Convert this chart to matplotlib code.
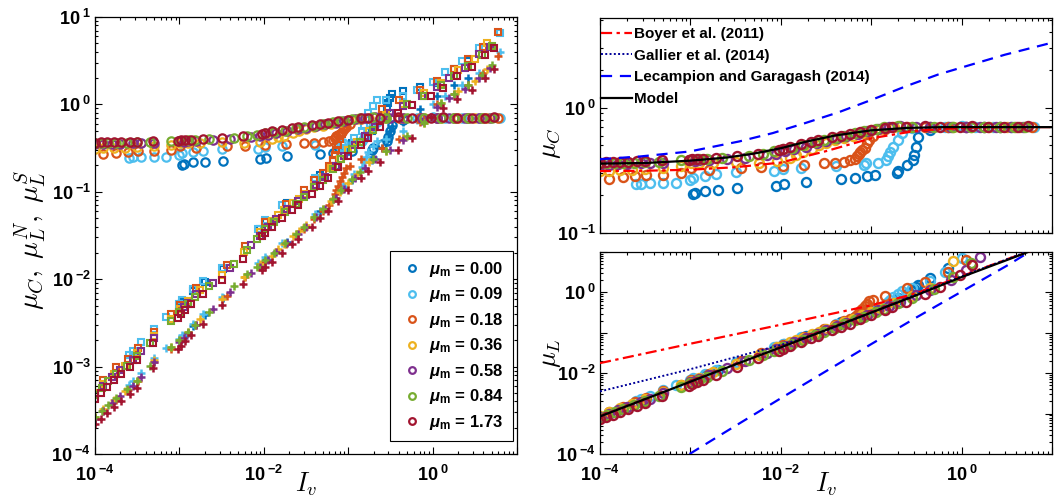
import numpy as np
import matplotlib
matplotlib.use('Agg')
import matplotlib.pyplot as plt
from matplotlib.lines import Line2D
from matplotlib.ticker import LogLocator, FuncFormatter, NullFormatter

plt.rcParams['font.family'] = 'Liberation Sans'
plt.rcParams['mathtext.fontset'] = 'custom'
plt.rcParams['mathtext.rm'] = 'Liberation Sans:bold'
plt.rcParams['mathtext.bf'] = 'Liberation Sans:bold'
plt.rcParams['mathtext.sf'] = 'Liberation Sans:bold:italic'
plt.rcParams['mathtext.it'] = 'Liberation Sans:italic'

nan = np.nan

# values read off log axes are kept as exponents (log10) except mu_C
# mu_m = 0.00
lg_iv_000 = [-2.97, -2.95, -2.84, -2.70, -2.48, -2.05, -1.97, -1.72, -1.33, -1.18, -1.05, -0.96,
             -0.72, -0.70, -0.60, -0.54, -0.53, -0.51, -0.48, -0.35, -0.15, 0.05, 0.25, 0.42]
muc_000 = [0.205, 0.21, 0.217, 0.221, 0.228, 0.238, 0.245, 0.257, 0.268, 0.275, 0.285, 0.29,
           0.30, 0.315, 0.35, 0.38, 0.42, 0.49, 0.58, 0.66, 0.70, 0.70, 0.70, 0.70]
lg_n_000 = [-2.27, -2.25, -2.14, -2.03, -1.88, -1.43, -1.34, -1.13, -0.81, -0.65, -0.52, -0.44,
            -0.30, -0.25, -0.13, -0.04, 0.02, 0.07, 0.12, 0.15, 0.20, 0.25, 0.40, 0.50]
lg_s_000 = [-2.67, -2.65, -2.54, -2.41, -2.21, -1.84, -1.77, -1.57, -1.22, -1.08, -0.95, -0.86,
            -0.64, -0.60, -0.50, -0.42, -0.36, -0.30, -0.25, -0.20, -0.05, 0.10, 0.22, 0.30]
lg_l_000 = [-2.15, -2.14, -2.04, -1.92, -1.72, -1.35, -1.28, -1.07, -0.74, -0.61, -0.50, -0.42,
            -0.20, -0.15, -0.05, 0.03, 0.08, 0.13, 0.18, 0.35, 0.60, nan, nan, nan]

# mu_m = 0.09
lg_iv_009 = [-3.60, -3.55, -3.45, -3.30, -3.16, -3.01, -2.97, -2.84, -2.72, -2.50, -2.07, -1.98,
             -1.78, -1.39, -1.08, -1.06, -0.93, -0.84, -0.81, -0.79, -0.76, -0.70, -0.66, -0.55,
             -0.35, -0.18, 0.00, 0.15, 0.35, 0.55, 0.80]
muc_009 = [0.245, 0.248, 0.25, 0.252, 0.252, 0.264, 0.277, 0.285, 0.296, 0.306, 0.312, 0.322,
           0.33, 0.34, 0.35, 0.36, 0.364, 0.38, 0.41, 0.44, 0.49, 0.55, 0.63, 0.69,
           0.70, 0.70, 0.71, 0.70, 0.70, 0.70, 0.70]
lg_n_009 = [-2.87, -2.82, -2.72, -2.57, -2.43, -2.28, -2.24, -2.11, -2.02, -1.87, -1.42, -1.32,
            -1.15, -0.84, -0.52, -0.50, -0.38, -0.30, -0.25, -0.18, -0.10, -0.02, 0.05, 0.05,
            0.10, 0.17, 0.26, 0.37, 0.50, 0.64, 0.82]
lg_s_009 = [-3.21, -3.17, -3.07, -2.90, -2.79, -2.68, -2.64, -2.51, -2.40, -2.20, -1.82, -1.75,
            -1.59, -1.25, -0.95, -0.93, -0.80, -0.72, -0.66, -0.60, -0.54, -0.48, -0.42, -0.40,
            -0.30, -0.18, 0.00, 0.10, 0.22, 0.36, 0.60]
lg_l_009 = [-2.69, -2.64, -2.56, -2.42, -2.30, -2.17, -2.13, -2.02, -1.91, -1.72, -1.35, -1.27,
            -1.10, -0.77, -0.51, -0.49, -0.38, -0.30, -0.24, -0.18, -0.12, -0.04, 0.03, 0.12,
            0.28, 0.50, 0.85, nan, nan, nan, nan]

# mu_m = 0.18
lg_iv_018 = [-3.90, -3.75, -3.61, -3.49, -3.30, -3.10, -2.99, -2.80, -2.44, -2.22, -1.98, -1.74,
             -1.52, -1.40, -1.30, -1.23, -1.18, -1.16, -1.14, -1.12, -1.10, -1.07, -1.05, -1.03,
             -0.98, -0.85, -0.60, -0.40, -0.15, 0.05, 0.25, 0.42, 0.60, 0.78]
muc_018 = [0.27, 0.28, 0.285, 0.29, 0.29, 0.30, 0.33, 0.32, 0.33, 0.335, 0.34, 0.35,
           0.36, 0.365, 0.37, 0.38, 0.39, 0.41, 0.43, 0.445, 0.46, 0.48, 0.52, 0.55,
           0.60, 0.68, 0.70, 0.70, 0.70, 0.70, 0.70, 0.70, 0.70, 0.70]
lg_n_018 = [-3.15, -3.01, -2.91, -2.79, -2.60, -2.40, -2.29, -2.10, -1.84, -1.62, -1.35, -1.14,
            -0.98, -0.87, -0.78, -0.71, -0.64, -0.58, -0.52, -0.46, -0.40, -0.34, -0.28, -0.22,
            -0.18, -0.15, -0.05, 0.05, 0.16, 0.27, 0.41, 0.52, 0.66, 0.83]
lg_s_018 = [-3.51, -3.38, -3.27, -3.17, -2.95, -2.80, -2.71, -2.52, -2.19, -1.98, -1.80, -1.60,
            -1.42, -1.31, -1.22, -1.15, -1.08, -1.03, -0.98, -0.93, -0.88, -0.83, -0.78, -0.73,
            -0.70, -0.62, -0.50, -0.40, -0.20, 0.00, 0.12, 0.22, 0.36, 0.55]
lg_l_018 = [-2.96, -2.84, -2.72, -2.62, -2.45, -2.28, -2.18, -2.01, -1.70, -1.51, -1.30, -1.10,
            -0.91, -0.81, -0.72, -0.66, -0.60, -0.55, -0.50, -0.45, -0.40, -0.34, -0.28, -0.22,
            -0.18, -0.10, 0.10, 0.25, 0.50, 0.80, nan, nan, nan, nan]

# mu_m = 0.36
lg_iv_036 = [-4.00, -3.90, -3.78, -3.65, -3.50, -3.30, -3.10, -2.99, -2.90, -2.75, -2.50, -2.24,
             -2.04, -1.90, -1.83, -1.76, -1.65, -1.58, -1.50, -1.40, -1.30, -1.20, -1.10, -1.00,
             -0.90, -0.75, -0.55, -0.35, -0.10, 0.10, 0.30, 0.50, 0.65]
muc_036 = [0.31, 0.315, 0.32, 0.32, 0.325, 0.33, 0.34, 0.36, 0.36, 0.365, 0.37, 0.365,
           0.375, 0.40, 0.42, 0.44, 0.47, 0.50, 0.52, 0.55, 0.57, 0.60, 0.63, 0.66,
           0.68, 0.70, 0.70, 0.70, 0.70, 0.70, 0.70, 0.70, 0.70]
lg_n_036 = [-3.30, -3.20, -3.08, -2.99, -2.85, -2.65, -2.45, -2.34, -2.25, -2.12, -1.95, -1.69,
            -1.46, -1.33, -1.27, -1.21, -1.13, -1.08, -1.02, -0.92, -0.83, -0.73, -0.62, -0.52,
            -0.43, -0.30, -0.12, 0.00, 0.13, 0.25, 0.39, 0.52, 0.70]
lg_s_036 = [-3.58, -3.49, -3.38, -3.28, -3.16, -2.93, -2.78, -2.69, -2.60, -2.46, -2.23, -1.97,
            -1.83, -1.74, -1.66, -1.60, -1.51, -1.45, -1.38, -1.29, -1.20, -1.10, -1.00, -0.90,
            -0.80, -0.66, -0.53, -0.39, -0.21, 0.02, 0.15, 0.27, 0.41]
lg_l_036 = [-3.05, -2.97, -2.87, -2.76, -2.64, -2.46, -2.29, -2.19, -2.11, -1.98, -1.76, -1.54,
            -1.36, -1.24, -1.18, -1.12, -1.03, -0.97, -0.90, -0.82, -0.73, -0.65, -0.56, -0.48,
            -0.39, -0.26, -0.08, 0.10, 0.78, nan, nan, nan, nan]

# mu_m = 0.58
lg_iv_058 = [-4.00, -3.90, -3.80, -3.70, -3.55, -3.45, -3.30, -3.00, -2.95, -2.90, -2.80, -2.60,
             -2.40, -2.15, -2.05, -1.95, -1.85, -1.72, -1.60, -1.50, -1.38, -1.28, -1.15, -1.05,
             -0.92, -0.80, -0.68, -0.50, -0.35, -0.12, 0.05, 0.20, 0.38, 0.55, 0.68]
muc_058 = [0.35, 0.35, 0.355, 0.355, 0.36, 0.36, 0.365, 0.38, 0.375, 0.38, 0.385, 0.39,
           0.40, 0.42, 0.43, 0.45, 0.47, 0.49, 0.52, 0.54, 0.57, 0.59, 0.62, 0.65,
           0.68, 0.70, 0.71, 0.70, 0.70, 0.70, 0.70, 0.70, 0.70, 0.70, 0.70]
lg_n_058 = [-3.32, -3.22, -3.12, -3.04, -2.92, -2.82, -2.67, -2.37, -2.32, -2.27, -2.17, -2.04,
            -1.87, -1.61, -1.50, -1.40, -1.31, -1.20, -1.11, -1.04, -0.92, -0.83, -0.70, -0.59,
            -0.47, -0.36, -0.26, -0.10, -0.02, 0.10, 0.20, 0.30, 0.42, 0.58, 0.66]
lg_s_058 = [-3.60, -3.51, -3.42, -3.34, -3.22, -3.12, -2.95, -2.72, -2.67, -2.62, -2.52, -2.34,
            -2.15, -1.93, -1.86, -1.78, -1.69, -1.59, -1.48, -1.40, -1.29, -1.20, -1.07, -0.97,
            -0.84, -0.73, -0.63, -0.52, -0.41, -0.19, -0.03, 0.07, 0.18, 0.30, 0.42]
lg_l_058 = [-3.08, -3.00, -2.92, -2.83, -2.71, -2.63, -2.49, -2.23, -2.19, -2.14, -2.05, -1.88,
            -1.70, -1.49, -1.40, -1.32, -1.23, -1.12, -1.02, -0.93, -0.83, -0.75, -0.64, -0.55,
            -0.44, -0.33, -0.23, -0.07, 0.06, 0.30, 0.55, 0.88, nan, nan, nan]

# mu_m = 0.84
lg_iv_084 = [-4.00, -3.92, -3.84, -3.75, -3.62, -3.50, -3.35, -3.10, -3.00, -2.90, -2.82, -2.65,
             -2.35, -2.20, -2.08, -1.98, -1.88, -1.75, -1.62, -1.52, -1.40, -1.30, -1.18, -1.08,
             -0.95, -0.86, -0.70, -0.55, -0.30, -0.10, 0.10, 0.25, 0.42, 0.58, 0.70]
muc_084 = [0.36, 0.36, 0.36, 0.362, 0.365, 0.37, 0.37, 0.38, 0.385, 0.39, 0.39, 0.40,
           0.41, 0.43, 0.45, 0.47, 0.48, 0.50, 0.53, 0.55, 0.57, 0.60, 0.63, 0.65,
           0.68, 0.70, 0.71, 0.70, 0.70, 0.70, 0.70, 0.70, 0.70, 0.70, 0.70]
lg_n_084 = [-3.33, -3.25, -3.17, -3.09, -2.99, -2.88, -2.73, -2.48, -2.38, -2.28, -2.20, -2.08,
            -1.83, -1.67, -1.54, -1.43, -1.34, -1.23, -1.14, -1.06, -0.95, -0.86, -0.74, -0.63,
            -0.51, -0.43, -0.29, -0.15, 0.00, 0.10, 0.22, 0.33, 0.44, 0.56, 0.67]
lg_s_084 = [-3.58, -3.51, -3.44, -3.36, -3.26, -3.16, -2.99, -2.78, -2.70, -2.60, -2.52, -2.37,
            -2.08, -1.94, -1.86, -1.78, -1.70, -1.59, -1.48, -1.40, -1.29, -1.20, -1.08, -0.98,
            -0.85, -0.77, -0.63, -0.53, -0.36, -0.21, 0.02, 0.12, 0.22, 0.34, 0.45]
lg_l_084 = [-3.10, -3.03, -2.97, -2.89, -2.79, -2.69, -2.56, -2.34, -2.25, -2.16, -2.09, -1.94,
            -1.68, -1.55, -1.45, -1.36, -1.28, -1.17, -1.05, -0.97, -0.87, -0.78, -0.68, -0.60,
            -0.49, -0.41, -0.27, -0.13, 0.09, 0.37, 0.72, nan, nan, nan, nan]

# mu_m = 1.73
lg_iv_173 = [-4.00, -3.93, -3.86, -3.78, -3.69, -3.59, -3.50, -3.31, -3.02, -2.98, -2.93, -2.86,
             -2.72, -2.49, -2.25, -2.02, -1.98, -1.90, -1.78, -1.67, -1.59, -1.43, -1.33, -1.24,
             -1.12, -1.00, -0.85, -0.77, -0.62, -0.41, -0.24, -0.02, 0.12, 0.29, 0.47, 0.62, 0.73]
muc_173 = [0.365, 0.37, 0.37, 0.372, 0.372, 0.375, 0.375, 0.38, 0.385, 0.39, 0.39, 0.392,
           0.40, 0.41, 0.43, 0.46, 0.47, 0.49, 0.51, 0.53, 0.55, 0.58, 0.60, 0.62,
           0.64, 0.67, 0.69, 0.70, 0.70, 0.71, 0.70, 0.70, 0.71, 0.70, 0.70, 0.70, 0.71]
lg_n_173 = [-3.37, -3.30, -3.23, -3.15, -3.08, -3.01, -2.92, -2.73, -2.44, -2.40, -2.35, -2.28,
            -2.17, -2.01, -1.77, -1.51, -1.47, -1.40, -1.30, -1.21, -1.15, -1.02, -0.93, -0.84,
            -0.72, -0.59, -0.46, -0.39, -0.26, -0.10, -0.01, 0.10, 0.19, 0.32, 0.43, 0.56, 0.65]
lg_s_173 = [-3.66, -3.60, -3.53, -3.46, -3.39, -3.31, -3.24, -3.02, -2.80, -2.76, -2.71, -2.64,
            -2.51, -2.30, -2.06, -1.89, -1.86, -1.80, -1.70, -1.60, -1.54, -1.40, -1.30, -1.22,
            -1.10, -0.98, -0.84, -0.76, -0.66, -0.52, -0.39, -0.14, -0.04, 0.06, 0.17, 0.30, 0.40]
lg_l_173 = [-3.14, -3.08, -3.03, -2.96, -2.89, -2.80, -2.73, -2.56, -2.31, -2.27, -2.23, -2.17,
            -2.04, -1.84, -1.63, -1.44, -1.40, -1.33, -1.23, -1.14, -1.07, -0.93, -0.85, -0.77,
            -0.67, -0.57, -0.44, -0.37, -0.24, -0.05, 0.13, 0.43, 0.68, nan, nan, nan, nan]

labels = ['0.00', '0.09', '0.18', '0.36', '0.58', '0.84', '1.73']
colors = ['#0072BD', '#4DBEEE', '#D95319', '#EDB120', '#7E2F8E', '#77AC30', '#A2142F']
series = [
    (lg_iv_000, muc_000, lg_n_000, lg_s_000, lg_l_000),
    (lg_iv_009, muc_009, lg_n_009, lg_s_009, lg_l_009),
    (lg_iv_018, muc_018, lg_n_018, lg_s_018, lg_l_018),
    (lg_iv_036, muc_036, lg_n_036, lg_s_036, lg_l_036),
    (lg_iv_058, muc_058, lg_n_058, lg_s_058, lg_l_058),
    (lg_iv_084, muc_084, lg_n_084, lg_s_084, lg_l_084),
    (lg_iv_173, muc_173, lg_n_173, lg_s_173, lg_l_173),
]

# model curves, mu_C panel
model_c_lgiv = [-4.0, -3.5, -3.0, -2.6, -2.3, -2.0, -1.7, -1.4, -1.0, -0.6, -0.2, 0.5, 1.0]
model_c = [0.358, 0.362, 0.378, 0.40, 0.43, 0.475, 0.54, 0.60, 0.66, 0.69, 0.70, 0.70, 0.70]
boyer_c_lgiv = [-4.0, -3.5, -3.0, -2.5, -2.0, -1.5, -1.0, -0.5, 0.0, 0.5, 1.0]
boyer_c = [0.312, 0.314, 0.32, 0.335, 0.365, 0.45, 0.57, 0.655, 0.69, 0.70, 0.70]
lg_c_lgiv = [-4.0, -3.56, -3.01, -2.46, -2.09, -1.73, -1.36, -0.99, -0.62, -0.26, 0.11, 0.48, 0.99]
lg_c = [0.388, 0.408, 0.447, 0.538, 0.627, 0.754, 0.92, 1.16, 1.48, 1.84, 2.21, 2.65, 3.29]

# model curves, mu_L panel (log10 values)
model_l_lgiv = [-4.0, -3.5, -3.0, -2.5, -2.0, -1.5, -1.0, -0.5, 0.0, 0.5, 0.77]
model_l = [-3.07, -2.64, -2.21, -1.78, -1.36, -0.93, -0.50, -0.07, 0.38, 0.80, 1.03]
boyer_l_lgiv = [-4.0, -3.0, -2.0, -1.0, -0.5, 0.0, 0.5, 0.77]
boyer_l = [-1.75, -1.27, -0.80, -0.32, -0.02, 0.40, 0.82, 1.03]
gallier_l_lgiv = [-4.0, -3.0, -2.0, -1.5, -1.0, -0.5, 0.0, 0.5, 0.75]
gallier_l = [-2.45, -1.90, -1.30, -0.95, -0.50, -0.05, 0.40, 0.82, 1.03]
lgar_l_lgiv = [-3.01, -2.5, -2.0, -1.5, -1.0, -0.5, 0.0, 0.5, 0.77]
lgar_l = [-4.0, -3.3, -2.62, -1.95, -1.28, -0.62, 0.02, 0.66, 1.03]


def p10(a):
    return 10.0 ** np.asarray(a, dtype=float)


def dec_fmt(step):
    def f(v, pos):
        e = int(round(np.log10(v)))
        if e % step:
            return ''
        return r'$\mathbf{10}^{\;\mathbf{%d}}$' % e
    return FuncFormatter(f)


def style_axis(ax, xstep, ystep, xlabels=True):
    ax.set_xscale('log')
    ax.set_yscale('log')
    for axis in (ax.xaxis, ax.yaxis):
        axis.set_major_locator(LogLocator(base=10, numticks=20))
        axis.set_minor_locator(LogLocator(base=10, subs=np.arange(2, 10) * 1.0, numticks=100))
        axis.set_minor_formatter(NullFormatter())
    ax.xaxis.set_major_formatter(dec_fmt(xstep) if xlabels else NullFormatter())
    ax.yaxis.set_major_formatter(dec_fmt(ystep))
    ax.tick_params(which='both', direction='in', top=True, right=True, labelsize=13, width=0.8)
    ax.tick_params(which='major', length=5)
    ax.tick_params(which='minor', length=2.5)
    ax.tick_params(axis='x', which='major', pad=8)
    ax.tick_params(axis='y', which='major', pad=3)
    for s in ax.spines.values():
        s.set_linewidth(0.9)


fig = plt.figure(figsize=(10.54, 5.0), dpi=100)
ax1 = fig.add_axes([0.0901, 0.092, 0.4004, 0.874])
ax2 = fig.add_axes([0.5693, 0.534, 0.4288, 0.430])
ax3 = fig.add_axes([0.5693, 0.092, 0.4288, 0.404])

handles = []
for (lgiv, muc, lgn, lgs, lgl), lab, c in zip(series, labels, colors):
    iv = p10(lgiv)
    h, = ax1.plot(iv, muc, 'o', mfc='none', mec=c, ms=6, mew=1.6, zorder=2,
                  label=r'$\mathsf{\mu}_{\mathbf{m}}$ = ' + lab)
    ax1.plot(iv, p10(lgn), 's', mfc='none', mec=c, ms=5, mew=1.5, zorder=2)
    ax1.plot(iv, p10(lgs), '+', color=c, ms=6, mew=1.8, zorder=2)
    ax2.plot(iv, muc, 'o', mfc='none', mec=c, ms=6.5, mew=1.7, zorder=2)
    ax3.plot(iv, p10(lgl), 'o', mfc='none', mec=c, ms=6.5, mew=1.7, zorder=2)
    handles.append(h)

# mu_C panel curves
ax2.plot(p10(boyer_c_lgiv), boyer_c, color='#FF0000', lw=1.6, ls=(0, (5, 2, 1.5, 2)), zorder=4)
ax2.plot(p10(lg_c_lgiv), lg_c, color='#0000FF', lw=1.6, ls=(0, (5, 3.5)), zorder=4)
ax2.plot(p10(model_c_lgiv), model_c, color='black', lw=1.6, zorder=5)

# mu_L panel curves
ax3.plot(p10(boyer_l_lgiv), p10(boyer_l), color='#FF0000', lw=1.6, ls=(0, (5, 2, 1.5, 2)), zorder=4)
ax3.plot(p10(gallier_l_lgiv), p10(gallier_l), color='#000099', lw=1.4, ls=(0, (1, 1.2)), zorder=4)
ax3.plot(p10(lgar_l_lgiv), p10(lgar_l), color='#0000FF', lw=1.6, ls=(0, (5, 3.5)), zorder=4)
ax3.plot(p10(model_l_lgiv), p10(model_l), color='black', lw=1.6, zorder=5)

ax1.set_xlim(1e-4, 1e1)
ax1.set_ylim(1e-4, 1e1)
ax2.set_xlim(1e-4, 1e1)
ax2.set_ylim(0.1, 5.2)
ax3.set_xlim(1e-4, 1e1)
ax3.set_ylim(1e-4, 1e1)

style_axis(ax1, 2, 1)
style_axis(ax2, 2, 1, xlabels=False)
style_axis(ax3, 2, 2)

ax1.set_ylabel(r'$\mu_C,\; \mu_L^N,\; \mu_L^S$', fontsize=20, math_fontfamily='cm')
ax1.yaxis.set_label_coords(-0.112, 0.49)
ax1.set_xlabel(r'$I_v$', fontsize=19, math_fontfamily='cm')
ax1.xaxis.set_label_coords(0.5, -0.038)
ax2.set_ylabel(r'$\mu_C$', fontsize=19, math_fontfamily='cm')
ax2.yaxis.set_label_coords(-0.082, 0.42)
ax3.set_ylabel(r'$\mu_L$', fontsize=19, math_fontfamily='cm')
ax3.yaxis.set_label_coords(-0.082, 0.5)
ax3.set_xlabel(r'$I_v$', fontsize=19, math_fontfamily='cm')
ax3.xaxis.set_label_coords(0.5, -0.083)

leg = ax1.legend(handles=handles, loc='lower right', bbox_to_anchor=(0.9905, 0.0297),
                 prop={'weight': 'bold', 'size': 12}, markerscale=0.8,
                 fancybox=False, framealpha=1, edgecolor='black', labelspacing=0.39,
                 handlelength=1.5, handletextpad=0.3, borderpad=0.55, borderaxespad=0)
leg.get_frame().set_linewidth(0.8)

proxies = [
    Line2D([], [], color='#FF0000', lw=1.6, ls=(0, (5, 2, 1.5, 2))),
    Line2D([], [], color='#000099', lw=1.4, ls=(0, (1, 1.2))),
    Line2D([], [], color='#0000FF', lw=1.6, ls=(0, (5, 3.5))),
    Line2D([], [], color='black', lw=1.6),
]
ax2.legend(proxies, ['Boyer et al. (2011)', 'Gallier et al. (2014)',
                     'Lecampion and Garagash (2014)', 'Model'],
           loc='upper left', bbox_to_anchor=(-0.018, 1.0), frameon=False,
           prop={'weight': 'bold', 'size': 11}, handlelength=2.0, handletextpad=0.15,
           labelspacing=0.5, borderaxespad=0.0, borderpad=0.6)

fig.savefig('out.png', dpi=100)
